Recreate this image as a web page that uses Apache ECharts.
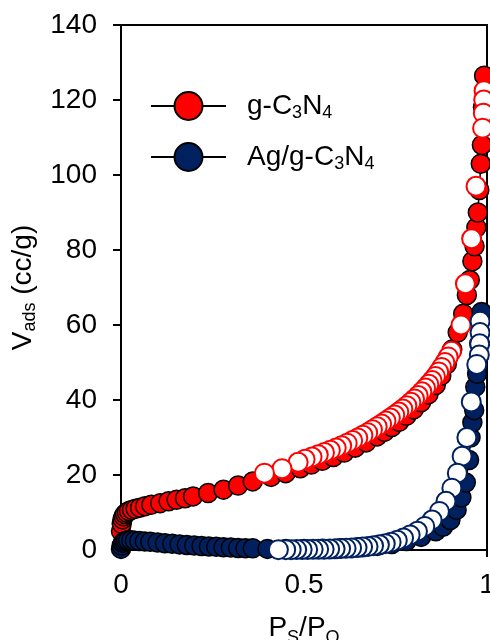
<!DOCTYPE html>
<html>
<head>
<meta charset="utf-8">
<script src="https://cdn.jsdelivr.net/npm/echarts@6/dist/echarts.min.js"></script>
<style>html,body{margin:0;padding:0;background:#fff}#c{width:490px;height:640px}</style>
</head>
<body>
<div id="c"></div>
<script>
// g-C3N4 adsorption
const gAdsP = [0.0,0.002,0.004,0.007,0.011,0.016,0.022,0.03,0.04,0.052,0.066,0.083,0.107,0.13,0.152,0.175,0.197,0.238,0.28,0.32,0.36,0.41,0.45,0.49,0.52,0.55,0.58,0.61,0.64,0.67,0.7,0.72,0.74,0.76,0.78,0.8,0.82,0.84,0.86,0.875,0.89,0.905,0.92,0.935,0.945,0.953,0.96,0.966,0.971,0.975,0.979,0.983,0.986,0.989,0.992];
const gAdsV = [5,7,8.2,9,9.6,10,10.4,10.7,11,11.3,11.7,12.1,12.5,13,13.4,13.8,14.3,15.2,16.1,17.2,18.3,19.5,20.5,21.8,22.8,23.8,24.8,26,27.3,28.7,30.3,31.5,32.8,34.2,35.8,37.5,39.4,41.5,44,46.5,49.5,53.5,58,63,68,72,77,81,86,90,96,103,108,118,126.5];
// g-C3N4 desorption
const gDesP = [0.992,0.991,0.99,0.988,0.97,0.958,0.941,0.929,0.903,0.894,0.885,0.876,0.868,0.859,0.85,0.841,0.832,0.822,0.812,0.802,0.792,0.781,0.77,0.759,0.748,0.736,0.724,0.712,0.7,0.687,0.674,0.661,0.647,0.633,0.618,0.603,0.588,0.572,0.556,0.539,0.522,0.503,0.484,0.44,0.392];
const gDesV = [122.5,120,116.5,112.5,97,83,71,60,53,51.5,50,48.7,47.5,46.3,45.2,44.2,43.2,42.2,41.2,40.3,39.4,38.5,37.6,36.8,36,35.2,34.4,33.6,32.9,32.1,31.3,30.6,29.9,29.2,28.5,27.8,27.2,26.6,26,25.4,24.8,24.2,23.4,21.7,20.5];
// Ag/g-C3N4 adsorption
const agAdsP = [0.0,0.002,0.005,0.009,0.014,0.02,0.028,0.038,0.05,0.065,0.08,0.1,0.12,0.14,0.16,0.18,0.2,0.22,0.24,0.26,0.28,0.3,0.32,0.34,0.36,0.4,0.45,0.5,0.55,0.6,0.65,0.7,0.74,0.78,0.82,0.86,0.88,0.9,0.917,0.93,0.942,0.951,0.955,0.96,0.965,0.968,0.973,0.979,0.985];
const agAdsV = [0.3,1.2,1.9,2.3,2.5,2.6,2.6,2.5,2.4,2.3,2.2,2.0,1.8,1.65,1.5,1.35,1.2,1.05,0.95,0.85,0.75,0.65,0.55,0.5,0.45,0.3,0.3,0.3,0.35,0.5,0.75,1.1,1.6,2.4,3.5,5,6.2,8,10.7,14,18,24,30,34,37.3,43.5,47,55,63.5];
// Ag/g-C3N4 desorption
const agDesP = [0.981,0.981,0.98,0.979,0.972,0.957,0.945,0.932,0.919,0.904,0.888,0.87,0.85,0.83,0.81,0.79,0.772,0.755,0.738,0.722,0.706,0.69,0.675,0.66,0.645,0.63,0.615,0.6,0.585,0.57,0.555,0.54,0.525,0.51,0.495,0.48,0.465,0.45,0.43];
const agDesV = [61,58,55,52,49.5,39.5,30,25,20.5,16.5,13,10.3,8,6.3,5,4,3.2,2.6,2.1,1.7,1.4,1.15,0.95,0.8,0.65,0.55,0.45,0.38,0.32,0.27,0.23,0.2,0.17,0.15,0.13,0.12,0.1,0.1,0.1];

const seriesNames = ['g-C3N4','Ag/g-C3N4'];
const xTicks = [0, 0.5, 1];
const yTicks = [0,20,40,60,80,100,120,140];

const RED = '#FF0000', NAVY = '#002060';
const zip = (p, v) => p.map((x, i) => [x, v[i]]);
const FONT = '"Liberation Sans", Arial, sans-serif';
const main = { fontSize: 28, fontFamily: FONT, color: '#000' };
const sub = { fontSize: 18, fontFamily: FONT, color: '#000', verticalAlign: 'bottom', height: 14 };
const subLow = { fontSize: 18, fontFamily: FONT, color: '#000', verticalAlign: 'bottom', height: 8 };

const chart = echarts.init(document.getElementById('c'), null, { renderer: 'canvas' });
chart.setOption({
  animation: false,
  backgroundColor: '#fff',
  grid: { left: 121, right: 3, top: 25, bottom: 90, outerBoundsMode: 'none', containLabel: false,
          show: true, borderColor: '#000', borderWidth: 2, backgroundColor: 'transparent' },
  legend: {
    data: seriesNames,
    orient: 'vertical', left: 145, top: 86,
    itemWidth: 75, itemHeight: 35, itemGap: 20,
    selectedMode: false,
    formatter: n => n === 'g-C3N4' ? 'g-C{s|3}N{s|4}' : 'Ag/g-C{s|3}N{s|4}',
    textStyle: { fontSize: 28, fontFamily: FONT, color: '#000', padding: [0,0,0,16], rich: { s: sub } }
  },
  xAxis: {
    type: 'value', min: 0, max: 1, interval: 0.5,
    name: '{a|P}{s|S}{a|/P}{s|O}', nameLocation: 'middle', nameGap: 64,
    nameTextStyle: { rich: { a: main, s: subLow } },
    axisLine: { lineStyle: { color: '#000', width: 2 } },
    axisTick: { inside: false, length: 7, lineStyle: { color: '#000', width: 2 } },
    axisLabel: { fontSize: 28, fontFamily: FONT, color: '#000', margin: 21, formatter: v => String(v) },
    splitLine: { show: false }
  },
  yAxis: {
    type: 'value', min: 0, max: 140, interval: 20,
    name: '{a|V}{s|ads}{a| (cc/g)}', nameLocation: 'middle', nameGap: 76,
    nameTextStyle: { rich: { a: main, s: sub } },
    axisLine: { lineStyle: { color: '#000', width: 2 } },
    axisTick: { inside: false, length: 8, lineStyle: { color: '#000', width: 2 } },
    axisLabel: { fontSize: 28, fontFamily: FONT, color: '#000', margin: 24 },
    splitLine: { show: false }
  },
  series: [
    { name: seriesNames[0], type: 'line', data: zip(gAdsP, gAdsV), symbol: 'circle', symbolSize: 19, clip: false,
      lineStyle: { color: '#000', width: 1.5 }, itemStyle: { color: RED, borderColor: '#000', borderWidth: 1.5 } },
    { name: seriesNames[0] + ' des', type: 'line', data: zip(gDesP, gDesV), symbol: 'circle', symbolSize: 19, clip: false,
      lineStyle: { opacity: 0 }, itemStyle: { color: '#fff', borderColor: RED, borderWidth: 2 } },
    { name: seriesNames[1], type: 'line', data: zip(agAdsP, agAdsV), symbol: 'circle', symbolSize: 19, clip: false,
      lineStyle: { color: '#000', width: 1.5 }, itemStyle: { color: NAVY, borderColor: '#000', borderWidth: 1.5 } },
    { name: seriesNames[1] + ' des', type: 'line', data: zip(agDesP, agDesV), symbol: 'circle', symbolSize: 19, clip: false,
      lineStyle: { opacity: 0 }, itemStyle: { color: '#fff', borderColor: NAVY, borderWidth: 2 } }
  ]
});
</script>
</body>
</html>
